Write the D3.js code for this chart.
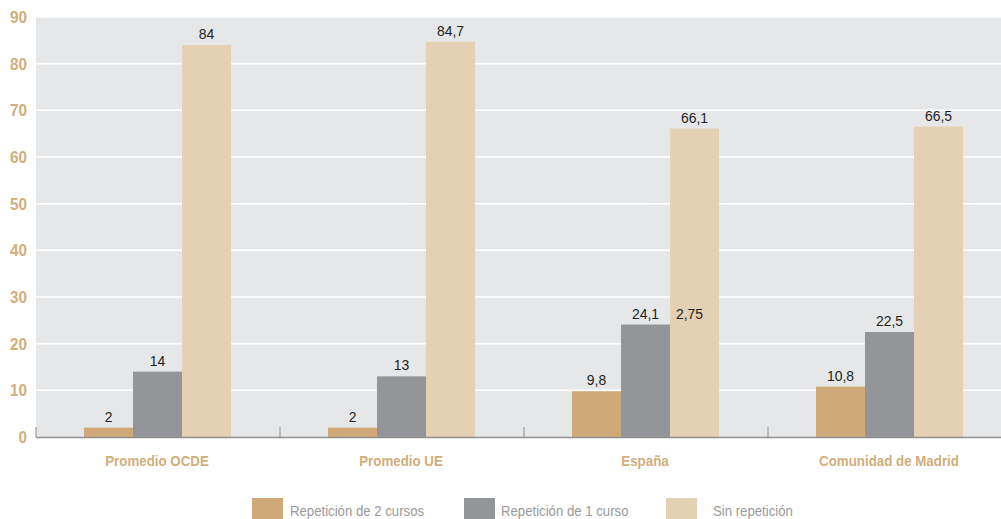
<!DOCTYPE html>
<html><head><meta charset="utf-8">
<script src="https://cdn.jsdelivr.net/npm/d3@7"></script>
<style>
body{margin:0;background:#fff;}
svg{display:block;}
</style></head>
<body>
<svg id="c" width="1001" height="519"></svg>
<script>
const categories = ["Promedio OCDE", "Promedio UE", "España", "Comunidad de Madrid"];
const seriesNames = ["Repetición de 2 cursos", "Repetición de 1 curso", "Sin repetición"];
const rep2 = [2, 2, 9.8, 10.8];
const rep1 = [14, 13, 24.1, 22.5];
const sinRep = [84, 84.7, 66.1, 66.5];
const valueLabels = [["2","2","9,8","10,8"],["14","13","24,1","22,5"],["84","84,7","66,1","66,5"]];
const extraLabels = [{category:"España", series:2, text:"2,75", at:24.1}];
const yTicks = [0,10,20,30,40,50,60,70,80,90];
const colors = ["#cfaa78", "#939598", "#e4d0b2"];

const values = [rep2, rep1, sinRep];
const svg = d3.select("#c");
const font = "'Liberation Sans',Arial,sans-serif";

const x0 = d3.scaleBand().domain(categories).range([36, 1012]).padding(0);
const x1 = d3.scaleBand().domain(d3.range(3)).range([48, 195]).padding(0);
const y = d3.scaleLinear().domain([0, 90]).range([437, 17]);

function cond(sel, sx, x, yy) {
  return sel.attr("transform", (d,i)=>`translate(${x(d,i)},${yy(d,i)}) scale(${sx},1)`);
}

// background
svg.append("rect").attr("x", 36).attr("y", y(90)).attr("width", 1001-36).attr("height", y(0)-y(90)).attr("fill", "#e6e7e9");

// gridlines
svg.append("g").selectAll("line").data(yTicks.filter(d=>d>0)).join("line")
  .attr("x1", 36).attr("x2", 1001).attr("y1", d=>y(d)).attr("y2", d=>y(d))
  .attr("stroke", "#fff").attr("stroke-width", 1.5);

// y labels
cond(svg.append("g").selectAll("text").data(yTicks).join("text"), 0.9, d=>27, d=>y(d))
  .attr("dy", "0.36em").attr("text-anchor", "end")
  .attr("font-family", font).attr("font-weight", "bold").attr("font-size", 17)
  .attr("fill", "#d1ae7c").text(d=>d);

// bars
const groups = svg.append("g").selectAll("g").data(categories).join("g")
  .attr("transform", d=>`translate(${x0(d)},0)`);
groups.selectAll("rect").data((c,i)=>values.map((s,si)=>({si, v:s[i], ci:i}))).join("rect")
  .attr("x", d=>x1(d.si)).attr("width", x1.bandwidth())
  .attr("y", d=>y(d.v)).attr("height", d=>y(0)-y(d.v))
  .attr("fill", d=>colors[d.si]);
cond(groups.selectAll("text").data((c,i)=>values.map((s,si)=>({si, v:s[i], ci:i}))).join("text"),
  0.93, d=>x1(d.si)+x1.bandwidth()/2, d=>y(d.v)-6)
  .attr("text-anchor", "middle").attr("font-family", font).attr("font-size", 15)
  .attr("fill", "#231f20").text(d=>valueLabels[d.si][d.ci]);

// extra labels
cond(svg.append("g").selectAll("text").data(extraLabels).join("text"), 0.93,
  d=>x0(d.category)+x1(d.series)+x1.bandwidth()/2-5, d=>y(d.at)-6)
  .attr("text-anchor", "middle").attr("font-family", font).attr("font-size", 15)
  .attr("fill", "#231f20").text(d=>d.text);

// x axis
svg.append("line").attr("x1", 36).attr("x2", 1001).attr("y1", y(0)+0.5).attr("y2", y(0)+0.5)
  .attr("stroke", "#8e8e8e").attr("stroke-width", 1.5);
svg.append("g").selectAll("line").data(categories).join("line")
  .attr("x1", d=>x0(d)).attr("x2", d=>x0(d)).attr("y1", y(0)).attr("y2", y(0)-10)
  .attr("stroke", "#8e8e8e").attr("stroke-width", 1);
cond(svg.append("g").selectAll("text").data(categories).join("text"), 0.86,
  d=>x0(d)+x0.bandwidth()/2-1, d=>466)
  .attr("text-anchor", "middle").attr("font-family", font).attr("font-weight", "bold").attr("font-size", 15.5)
  .attr("fill", "#d1ae7c").text(d=>d);

// legend
const legX = [252, 464, 666];
const legTX = [290, 501, 713];
const leg = svg.append("g").selectAll("g").data(seriesNames).join("g");
leg.append("rect").attr("x", (d,i)=>legX[i]).attr("y", 498).attr("width", 31).attr("height", 21).attr("fill", (d,i)=>colors[i]);
cond(leg.append("text"), 0.88, (d,i)=>legTX[i], d=>516)
  .attr("font-family", font).attr("font-size", 15).attr("fill", "#9a9a9a").text(d=>d);
</script>
</body></html>
